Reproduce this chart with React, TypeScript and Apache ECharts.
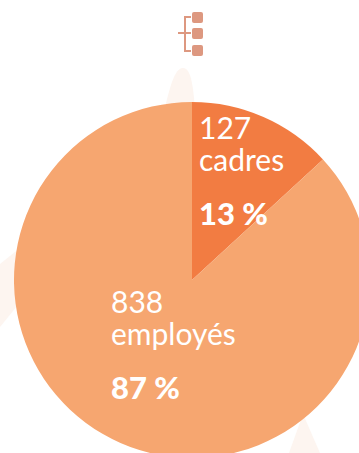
import React, { useEffect, useRef } from "react";
import * as echarts from "echarts";

const counts = [127, 838];
const roles = ["cadres", "employés"];
const shares = ["13 %", "87 %"];
const sliceColors = ["#f27c42", "#f6a670"];
const labelAnchors = [
  [199, 111],
  [111, 285],
];

const FONT = "Lato, 'Noto Sans', sans-serif";
const ICON = "#dd9880";
const WASH = "#fdf5f0";

// Pale shapes sitting behind the pie
echarts.graphic.registerShape(
  "washSpike",
  echarts.graphic.extendPath("M160 125 C168 100 172 68 183 68 C192 68 194 90 196 125 Z", {})
);

const backdrop = [
  { type: "washSpike", style: { fill: WASH }, z: 0 },
  {
    type: "polygon",
    z: 0,
    shape: { points: [[0, 264], [30, 240], [30, 290], [0, 327]] },
    style: { fill: WASH },
  },
  {
    type: "polygon",
    z: 0,
    shape: { points: [[303, 414], [320, 453], [289, 453]] },
    style: { fill: WASH },
  },
];

// Hierarchy pictogram above the pie
const icon = [
  ...[12, 28, 45].map((y) => ({
    type: "rect",
    z: 1,
    shape: { x: 192, y, width: 11, height: 11, r: 2 },
    style: { fill: ICON },
  })),
  {
    type: "polyline",
    z: 1,
    shape: { points: [[191, 17], [185, 17], [185, 51], [191, 51]] },
    style: { stroke: ICON, lineWidth: 2, fill: "none" },
  },
  {
    type: "line",
    z: 1,
    shape: { x1: 178, y1: 33, x2: 191, y2: 33 },
    style: { stroke: ICON, lineWidth: 2 },
  },
];

export default function App() {
  const ref = useRef<HTMLDivElement>(null);

  useEffect(() => {
    document.body.style.margin = "0";
    const chart = echarts.init(ref.current!, undefined, { renderer: "svg" });
    chart.setOption({
      animation: false,
      backgroundColor: "#ffffff",
      graphic: { elements: [...backdrop, ...icon] },
      series: [
        {
          type: "pie",
          z: 2,
          center: [192, 280],
          radius: [0, 178],
          startAngle: 90,
          clockwise: true,
          silent: true,
          avoidLabelOverlap: false,
          itemStyle: { borderWidth: 0 },
          labelLine: { show: false },
          label: {
            show: true,
            position: "inside",
            align: "left",
            verticalAlign: "top",
            color: "#ffffff",
            fontFamily: FONT,
            formatter: (p: { dataIndex: number; value: number }) =>
              `{n|${p.value}}\n{n|${roles[p.dataIndex]}}\n{gap|}\n{p|${shares[p.dataIndex]}}`,
            rich: {
              n: { fontSize: 30, lineHeight: 32, fontWeight: 400, color: "#fff", fontFamily: FONT },
              gap: { fontSize: 10, lineHeight: 20 },
              p: { fontSize: 31, lineHeight: 36, fontWeight: 900, color: "#fff", fontFamily: FONT },
            },
          },
          labelLayout: (p: { dataIndex: number }) => ({
            x: labelAnchors[p.dataIndex][0],
            y: labelAnchors[p.dataIndex][1],
            align: "left",
            verticalAlign: "top",
          }),
          data: counts.map((value, i) => ({
            value,
            name: roles[i],
            itemStyle: { color: sliceColors[i] },
          })),
        },
      ],
    });
    return () => chart.dispose();
  }, []);

  return <div ref={ref} style={{ position: "fixed", left: 0, top: 0, width: 359, height: 453 }} />;
}
